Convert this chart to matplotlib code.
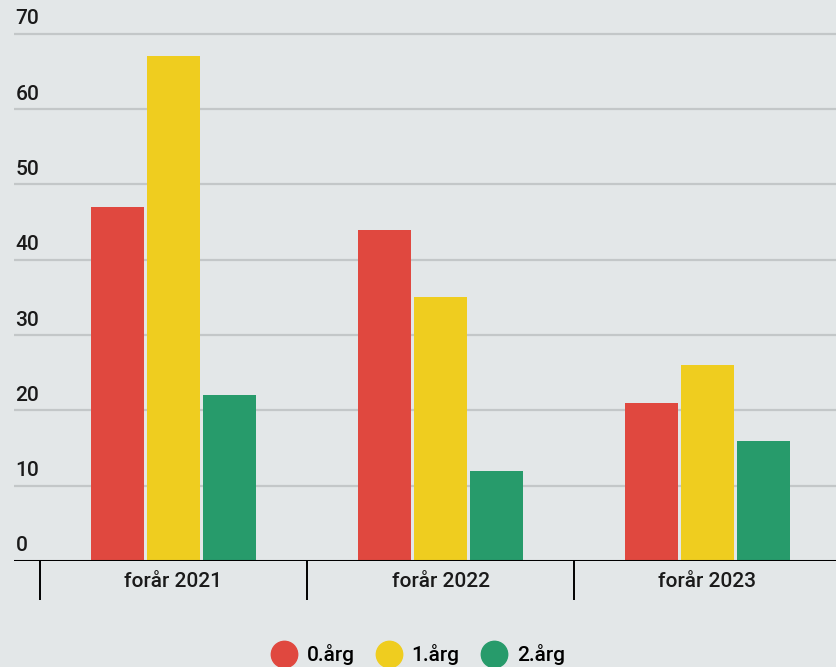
import numpy as np
import matplotlib.pyplot as plt
from matplotlib.lines import Line2D

plt.rcParams['font.family'] = ['Roboto', 'DejaVu Sans']
plt.rcParams['font.weight'] = 'medium'

categories = ['forår 2021', 'forår 2022', 'forår 2023']
series = ['0.årg', '1.årg', '2.årg']
values = {
    '0.årg': [47, 44, 21],
    '1.årg': [67, 35, 26],
    '2.årg': [22, 12, 16],
}
colors = ['#e0483f', '#efcd1f', '#279b6b']
bg = '#e3e7e8'

fig = plt.figure(figsize=(8.36, 6.67), dpi=100, facecolor=bg)
ax = fig.add_axes([14 / 836, (667 - 561) / 667, 1 - 14 / 836, 561 / 667])
ax.set_facecolor(bg)

x = np.arange(len(categories))
step = 0.21
width = 0.198
for i, s in enumerate(series):
    ax.bar(x + (i - 1) * step, values[s], width=width, color=colors[i], zorder=3)

ax.set_xlim(-0.5 - 26 / 267, 2.5 - 5 / 267)
ax.set_ylim(0, 74.5)

# grid lines and y labels
yticks = [10, 20, 30, 40, 50, 60, 70]
for y in yticks:
    ax.axhline(y, color='#c3c7c8', lw=1.6, zorder=1)
for y in [0] + yticks:
    ax.annotate(str(y), xy=(0, y), xycoords=ax.get_yaxis_transform(),
                xytext=(1, 4), textcoords='offset points',
                ha='left', va='bottom', fontsize=15, color='#1a1a1a')
ax.axhline(0, color='black', lw=2.2, zorder=4)

for sp in ax.spines.values():
    sp.set_visible(False)
ax.set_yticks([])
ax.set_xticks(x)
ax.set_xticklabels(categories, fontsize=15, color='#1a1a1a')
ax.tick_params(axis='x', which='major', length=0, pad=8)
ax.set_xticks(np.arange(-0.5, 2, 1), minor=True)
ax.tick_params(axis='x', which='minor', length=28, width=1.4, color='black')

handles = [Line2D([], [], marker='o', ls='', markersize=19, color=c) for c in colors]
fig.legend(handles, series, loc='lower center', bbox_to_anchor=(0.5, -0.025), ncol=3,
           frameon=False, fontsize=15, handletextpad=0.5, columnspacing=1.05,
           handlelength=1.2)

fig.savefig('out.png', dpi=100, facecolor=bg)
